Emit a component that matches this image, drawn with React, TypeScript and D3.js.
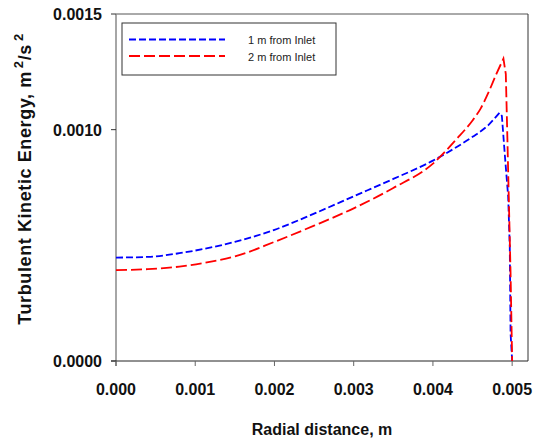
import React from "react";
import * as d3 from "d3";

const seriesNames = ["1 m from Inlet", "2 m from Inlet"];
const seriesColors = ["#0000ff", "#ff0000"];

const blueX = [0, 0.0004, 0.0008, 0.0012, 0.0015, 0.002, 0.0025, 0.003, 0.0035, 0.004, 0.0043, 0.0045, 0.0047, 0.00484, 0.00487, 0.00491, 0.00495, 0.00497, 0.00498, 0.005];
const blueY = [0.000447, 0.00045, 0.000466, 0.000491, 0.000515, 0.000567, 0.000637, 0.000712, 0.000787, 0.000866, 0.000925, 0.000969, 0.00102, 0.001073, 0.00106, 0.00088, 0.00071, 0.00049, 0.00012, 0];

const redX = [0, 0.0004, 0.0008, 0.0012, 0.0015, 0.002, 0.0025, 0.003, 0.0035, 0.004, 0.0043, 0.0045, 0.0046, 0.0047, 0.0048, 0.00489, 0.00492, 0.00494, 0.00496, 0.00498, 0.005];
const redY = [0.000393, 0.000397, 0.000408, 0.00043, 0.000452, 0.000515, 0.000585, 0.00066, 0.000748, 0.000853, 0.00096, 0.00104, 0.00109, 0.00116, 0.00124, 0.001307, 0.00124, 0.00096, 0.00067, 0.00038, 0];

const blueLabelsPeakIndex = 13;
const redPeakIndex = 15;

const xTicks = [0, 0.001, 0.002, 0.003, 0.004, 0.005];
const yTicks = [0, 0.001, 0.0015];

const W = 537;
const H = 440;
const M = { left: 116, right: 528, top: 14, bottom: 361 };

export default function App() {
  const x = d3.scaleLinear().domain([0, 0.0052]).range([M.left, M.right]);
  const y = d3.scaleLinear().domain([0, 0.0015]).range([M.bottom, M.top]);
  const smooth = d3
    .line<[number, number]>()
    .x((d) => x(d[0]))
    .y((d) => y(d[1]))
    .curve(d3.curveMonotoneX);
  const straight = d3
    .line<[number, number]>()
    .x((d) => x(d[0]))
    .y((d) => y(d[1]));
  const build = (xs: number[], ys: number[], peak: number) => {
    const pts = xs.map((v, i) => [v, ys[i]] as [number, number]);
    const a = smooth(pts.slice(0, peak + 1)) || "";
    const b = (straight(pts.slice(peak)) || "").replace(/^M/, "L");
    return a + b;
  };
  const font = "'Liberation Sans', Arial, sans-serif";
  const dashes = ["7,3", "11,4"];

  return (
    <svg
      width={W}
      height={H}
      style={{ position: "absolute", left: 0, top: 0, background: "#fff" }}
      fontFamily={font}
    >
      <rect x={0} y={0} width={W} height={H} fill="#fff" />
      {/* frame */}
      <line x1={M.left} x2={M.right} y1={M.top} y2={M.top} stroke="#555" strokeWidth={1} />
      <line x1={M.right} x2={M.right} y1={M.top} y2={M.bottom} stroke="#333" strokeWidth={1} />
      <line x1={M.left} x2={M.left} y1={M.top} y2={M.bottom + 5} stroke="#888" strokeWidth={1.5} />
      <line x1={M.left - 5} x2={M.right} y1={M.bottom} y2={M.bottom} stroke="#222" strokeWidth={1} />
      {/* y ticks */}
      {yTicks.map((t) => (
        <g key={"y" + t}>
          <line x1={M.left - 5} x2={M.left} y1={y(t)} y2={y(t)} stroke="#333" />
          <text
            x={M.left - 14}
            y={y(t) + 6}
            textAnchor="end"
            fontSize={16}
            fontWeight="bold"
            fill="#111"
          >
            {d3.format(".4f")(t)}
          </text>
        </g>
      ))}
      {/* x ticks */}
      {xTicks.map((t) => (
        <g key={"x" + t}>
          <line x1={x(t)} x2={x(t)} y1={M.bottom} y2={M.bottom + 5} stroke="#666" />
          <text x={x(t)} y={395} textAnchor="middle" fontSize={16} fontWeight="bold" fill="#111">
            {d3.format(".3f")(t)}
          </text>
        </g>
      ))}
      {/* axis titles */}
      <text x={322} y={435} textAnchor="middle" fontSize={16} fontWeight="bold" fill="#111">
        Radial distance, m
      </text>
      <text
        transform="translate(31,179) rotate(-90)"
        textAnchor="middle"
        fontSize={18}
        fontWeight="bold"
        letterSpacing={0.6}
        fill="#111"
      >
        Turbulent Kinetic Energy, m
        <tspan dx={3} dy={-8} fontSize={13}>
          {"2"}
        </tspan>
        <tspan dy={8}>/s</tspan>
        <tspan dx={3} dy={-8} fontSize={13}>
          {"2"}
        </tspan>
      </text>
      {/* lines */}
      <path d={build(blueX, blueY, blueLabelsPeakIndex)} fill="none" stroke={seriesColors[0]} strokeWidth={1.8} strokeDasharray={dashes[0]} />
      <path d={build(redX, redY, redPeakIndex)} fill="none" stroke={seriesColors[1]} strokeWidth={1.8} strokeDasharray={dashes[1]} />
      {/* legend */}
      <rect x={122} y={23} width={214} height={52} fill="#fff" stroke="#333" strokeWidth={1} />
      {seriesNames.map((n, i) => (
        <g key={n}>
          <line
            x1={129}
            x2={225}
            y1={39.5 + i * 16.5}
            y2={39.5 + i * 16.5}
            stroke={seriesColors[i]}
            strokeWidth={1.8}
            strokeDasharray={dashes[i]}
          />
          <text x={248} y={44 + i * 16.5} fontSize={11} fill="#222">
            {n}
          </text>
        </g>
      ))}
    </svg>
  );
}
